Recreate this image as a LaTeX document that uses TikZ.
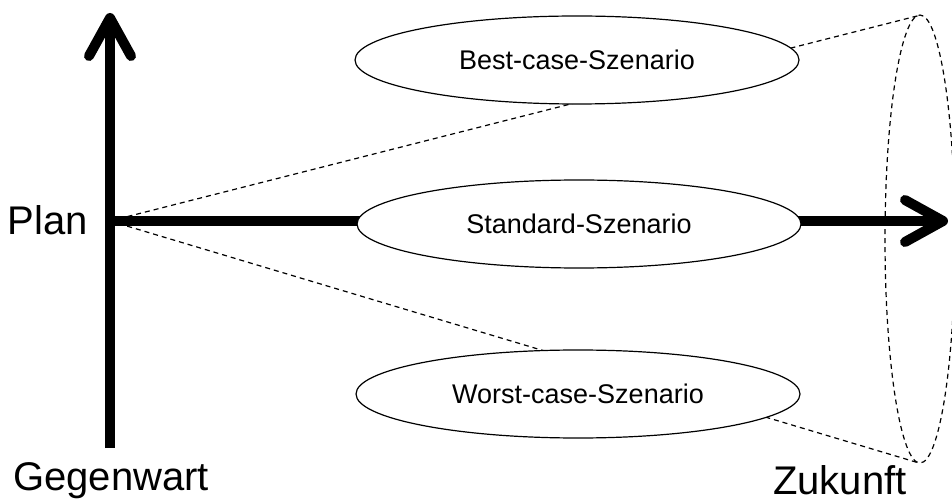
\documentclass[tikz,border=0pt]{standalone}
\usepackage{fontspec}
\setmainfont{Liberation Sans}
\usetikzlibrary{arrows.meta,shapes.geometric}

\begin{document}
\begin{tikzpicture}[x=1pt,y=-1pt,>={Straight Barb[length=38pt,width=42pt,round]},
  axis/.style={line width=10pt,->},
  ray/.style={dashed,line width=1.2pt,dash pattern=on 5pt off 4pt},
  scenario/.style={ellipse,draw,fill=white,line width=1.2pt,minimum width=444pt,minimum height=88pt,inner sep=0pt,font=\fontsize{27}{32}\selectfont},
  axislabel/.style={anchor=base,inner sep=1pt,font=\fontsize{40}{48}\selectfont}]
\useasboundingbox (0,0) rectangle (952,502);
\coordinate (origin) at (110,221);
\coordinate (top) at (110,13);
\coordinate (right) at (948,221);
\coordinate (conetop) at (921,15);
\coordinate (conebottom) at (919,463);
\draw[ray] (origin) -- (conetop);
\draw[ray] (origin) -- (conebottom);
\draw[ray] (920,239) ellipse [x radius=35,y radius=224];
\draw[axis] (110,448) -- (top);
\draw[axis] (origin) -- (right);
\node[scenario] (best) at (577,60) {Best-case-Szenario};
\node[scenario] (standard) at (579,224) {Standard-Szenario};
\node[scenario] (worst) at (578,394) {Worst-case-Szenario};
\node[axislabel] (plan) at (48,235) {Plan};
\node[axislabel] (now) at (111,490) {Gegenwart};
\node[axislabel] (future) at (840,494) {Zukunft};
\end{tikzpicture}
\end{document}
